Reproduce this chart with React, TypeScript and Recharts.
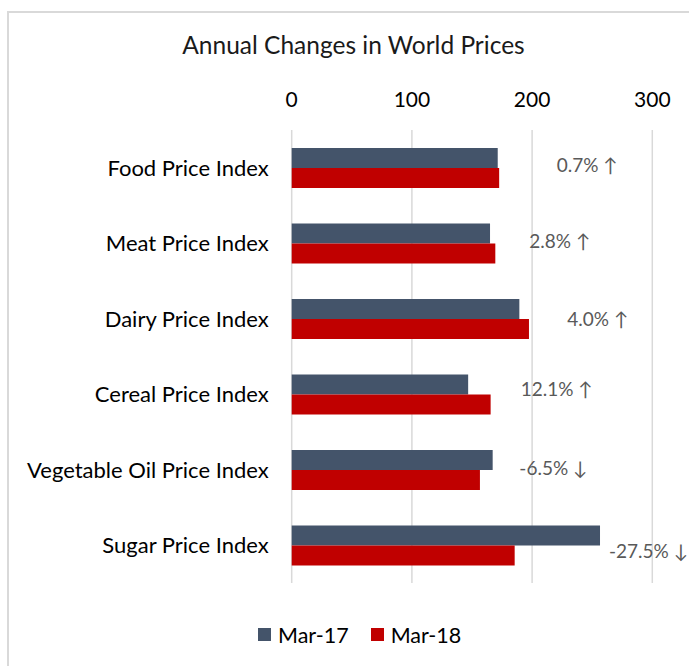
import {
  Bar, BarChart, CartesianGrid, Legend, ReferenceDot, XAxis, YAxis,
} from "recharts";

// 지수 값 (FAO, 2017년 3월 vs 2018년 3월)
const CATEGORIES = [
  "Food Price Index",
  "Meat Price Index",
  "Dairy Price Index",
  "Cereal Price Index",
  "Vegetable Oil Price Index",
  "Sugar Price Index",
];
const MAR_17 = [171.4, 165.0, 189.4, 146.8, 167.2, 256.5];
const MAR_18 = [172.6, 169.4, 197.4, 165.5, 156.6, 185.5];
const CHANGES = ["0.7% ↑", "2.8% ↑", "4.0% ↑", "12.1% ↑", "-6.5% ↓", "-27.5% ↓"];
const X_TICKS = [0, 100, 200, 300];

// 변화율 텍스트박스 위치 (x는 축 값 단위, dy는 px) — 원본에서 손으로 놓은 자리
const NOTE_AT = [220.5, 197.7, 229.3, 190.5, 189.4, 264];
const NOTE_DY = [4, 5, 7, 2, 5, 13];

const C = {
  mar17: "#44546A", mar18: "#C00000", grid: "#d9d9d9",
  ink: "#000000", note: "#595959", frame: "#d9d9d9",
};
const FONT = "Lato, 'Open Sans', sans-serif";

const rows = CATEGORIES.map((name, i) => ({
  name, "Mar-17": MAR_17[i], "Mar-18": MAR_18[i],
}));

function LegendRow() {
  const items = [
    { label: "Mar-17", color: C.mar17 },
    { label: "Mar-18", color: C.mar18 },
  ];
  return (
    <div style={{
      display: "flex", alignItems: "center", paddingLeft: 258,
      fontFamily: FONT, fontSize: 21.5, lineHeight: "22px", color: C.ink,
    }}>
      {items.map((it, k) => (
        <div key={it.label} style={{
          display: "flex", alignItems: "center", marginRight: k === 0 ? 22 : 0,
        }}>
          <span style={{
            width: 13, height: 13, background: it.color,
            display: "inline-block", marginRight: 7,
          }} />
          <span>{it.label}</span>
        </div>
      ))}
    </div>
  );
}

export default function App() {
  return (
    <div style={{
      position: "absolute", left: 0, top: 0, width: 689, height: 666,
      overflow: "hidden", background: "#fff",
    }}>
      {/* 차트 영역 테두리 (오른쪽/아래는 화면 밖) */}
      <div style={{
        position: "absolute", left: 7, top: 11, width: 720, height: 720,
        border: `2px solid ${C.frame}`,
      }} />
      <div style={{
        position: "absolute", left: 0, top: 32, width: 707, textAlign: "center",
        fontFamily: FONT, fontSize: 24.5, lineHeight: "25px", color: "#1a1a1a",
      }}>
        Annual Changes in World Prices
      </div>
      <div style={{ position: "absolute", left: 0, top: 0 }}>
        <BarChart
          width={689} height={666} data={rows} layout="vertical"
          margin={{ top: 100, right: 36.7, bottom: 83, left: 8 }}
          barSize={20} barGap={0}
        >
          <CartesianGrid horizontal={false} stroke={C.grid} strokeWidth={1.5} />
          <XAxis
            type="number" orientation="top" domain={[0, 300]} ticks={X_TICKS}
            height={30} axisLine={false} tickLine={false} tickSize={0} tickMargin={23}
            tick={{ fontSize: 21, fontFamily: FONT, fill: C.ink }}
          />
          <YAxis
            type="category" dataKey="name" width={283.7}
            axisLine={false} tickLine={false} tickSize={0} tickMargin={23}
            tick={{ fontSize: 22, fontFamily: FONT, fill: C.ink }}
          />
          <Legend
            layout="horizontal" verticalAlign="middle" align="center"
            wrapperStyle={{ top: 623.5, left: 0, width: 689 }}
            content={() => <LegendRow />}
          />
          <Bar dataKey="Mar-17" fill={C.mar17} isAnimationActive={false} />
          <Bar dataKey="Mar-18" fill={C.mar18} isAnimationActive={false} />
          {CATEGORIES.map((cat, i) => (
            <ReferenceDot
              key={cat} x={NOTE_AT[i]} y={cat} r={0} ifOverflow="visible"
              fill="none" stroke="none"
              label={(p: { viewBox?: { x: number; y: number } }) => (
                <text
                  x={p.viewBox?.x ?? 0} y={(p.viewBox?.y ?? 0) + NOTE_DY[i]}
                  fontSize={19} fontFamily={FONT} fill={C.note}
                >
                  {CHANGES[i]}
                </text>
              )}
            />
          ))}
        </BarChart>
      </div>
    </div>
  );
}
